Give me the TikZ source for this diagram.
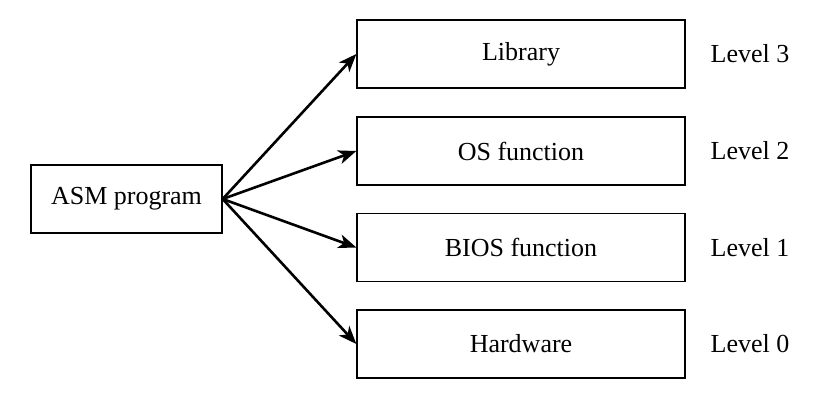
\documentclass[tikz,border=0pt]{standalone}
\usepackage{fontspec}
\setmainfont{Liberation Serif}
\usetikzlibrary{arrows.meta}

\begin{document}
\begin{tikzpicture}[x=0.5pt, y=-0.5pt,
    font=\fontsize{13}{15}\selectfont,
    box/.style={draw, line width=0.65pt, minimum width=164pt, minimum height=34pt, inner sep=0pt},
    link/.style={line width=1.3pt, -{Stealth[length=9pt, width=7pt, inset=2.5pt]}}]

    \useasboundingbox (0,0) rectangle (823,401);

    % caller
    \node[box, minimum width=95.5pt] (asm) at (126.5,199) {ASM program};

    % layers
    \node[box] (lib)  at (521,54)    {Library};
    \node[box] (os)   at (521,151)   {OS function};
    \node[box] (bios) at (521,247.5) {BIOS function};
    \node[box] (hw)   at (521,344)   {Hardware};

    % level labels
    \node (lv3) at (750,54)    {Level 3};
    \node (lv2) at (750,151)   {Level 2};
    \node (lv1) at (750,247.5) {Level 1};
    \node (lv0) at (750,344)   {Level 0};

    % calls
    \foreach \t in {lib,os,bios,hw} {
        \draw[link] (asm.east) -- (\t.west);
    }

\end{tikzpicture}
\end{document}
